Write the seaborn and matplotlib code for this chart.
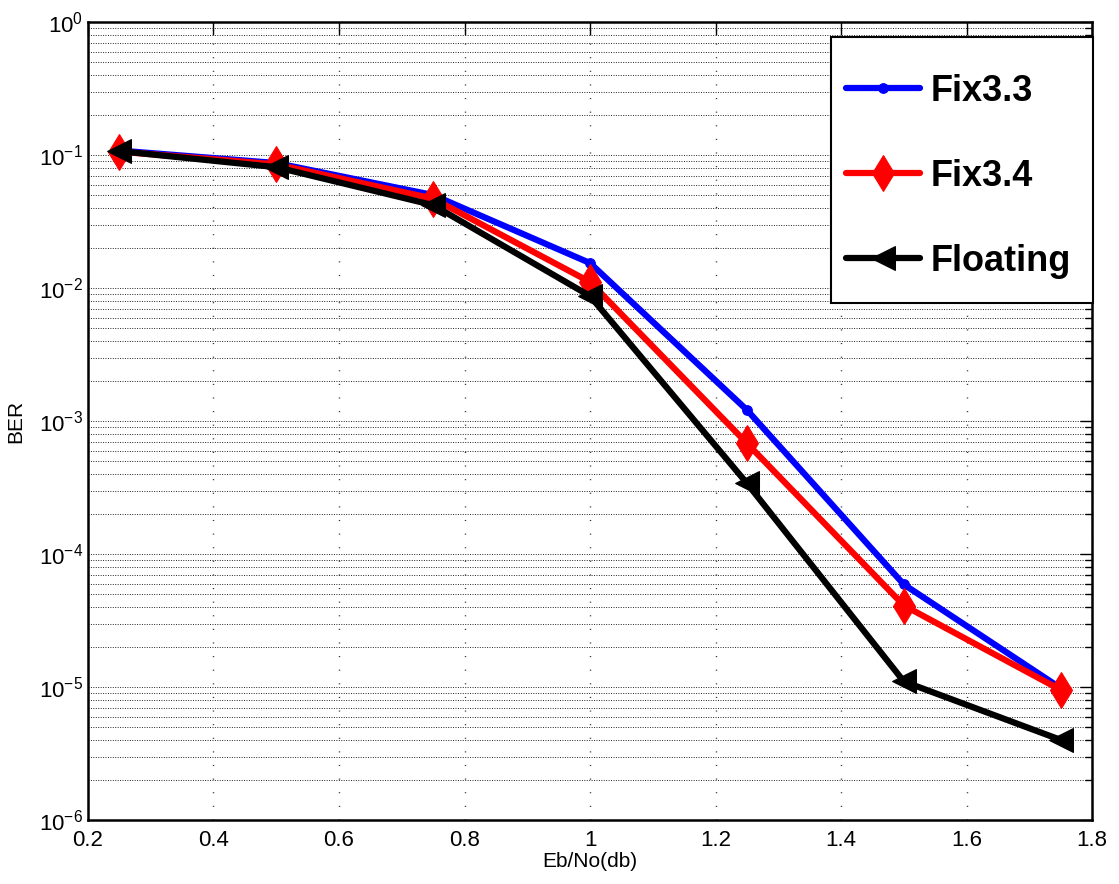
import matplotlib
matplotlib.use("Agg")
import matplotlib.pyplot as plt
import seaborn as sns
import pandas as pd
import numpy as np
from matplotlib.ticker import LogLocator, FixedLocator, NullFormatter
from matplotlib.patches import Rectangle

ebno = [0.25, 0.5, 0.75, 1.0, 1.25, 1.5, 1.75]
fix33 = [0.108, 0.087, 0.050, 0.0154, 0.00121, 5.9e-5, 9.8e-6]
fix34 = [0.106, 0.085, 0.047, 0.0111, 6.8e-4, 4.1e-5, 9.5e-6]
floating = [0.107, 0.081, 0.042, 0.0087, 3.4e-4, 1.1e-5, 4.0e-6]
series_names = ["Fix3.3", "Fix3.4", "Floating"]
xticks = [0.2, 0.4, 0.6, 0.8, 1.0, 1.2, 1.4, 1.6, 1.8]
xticklabels = ["0.2", "0.4", "0.6", "0.8", "1", "1.2", "1.4", "1.6", "1.8"]

sns.set_style("white")
plt.rcParams['font.family'] = ['Liberation Sans', 'DejaVu Sans']
plt.rcParams['mathtext.fontset'] = 'custom'
plt.rcParams['mathtext.rm'] = 'Liberation Sans'
plt.rcParams['text.color'] = 'black'
plt.rcParams['axes.labelcolor'] = 'black'
plt.rcParams['xtick.color'] = 'black'
plt.rcParams['ytick.color'] = 'black'

fig = plt.figure(figsize=(11.19, 8.84), dpi=100)
ax = fig.add_axes([0.0786, 0.0724, 0.8974, 0.9027])

df = pd.DataFrame({
    "x": ebno * 3,
    "y": fix33 + fix34 + floating,
    "s": sum([[n] * len(ebno) for n in series_names], []),
})

styles = {
    "Fix3.3": dict(color="#0000ff", marker="o", ms=7),
    "Fix3.4": dict(color="#ff0000", marker="d", ms=18),
    "Floating": dict(color="#000000", marker="<", ms=17),
}
for name in series_names:
    st = styles[name]
    sns.lineplot(data=df[df.s == name], x="x", y="y", ax=ax, color=st["color"],
                 marker=st["marker"], markersize=st["ms"], linewidth=4.5,
                 markeredgecolor=st["color"], markerfacecolor=st["color"],
                 label=name, estimator=None, zorder=3)

ax.set_yscale("log")
ax.set_xlim(0.2, 1.8)
ax.set_ylim(1e-6, 1)
ax.xaxis.set_major_locator(FixedLocator(xticks))
ax.set_xticklabels(xticklabels)
ax.yaxis.set_major_locator(LogLocator(base=10, numticks=10))
ax.yaxis.set_minor_locator(LogLocator(base=10, subs=np.arange(2, 10), numticks=100))
ax.yaxis.set_minor_formatter(NullFormatter())

ax.grid(True, which="major", axis="x", color="#333333", linestyle=(0, (0.8, 9)), linewidth=1.0)
ax.grid(True, which="both", axis="y", color="#222222", linestyle=(0, (1, 1.5)), linewidth=0.7)
ax.tick_params(axis="both", which="both", direction="in", top=True, right=True,
               labelsize=16, length=9, width=1)
ax.tick_params(axis="y", which="minor", length=5)
ax.tick_params(axis="x", pad=7)
for sp in ax.spines.values():
    sp.set_linewidth(1.8)
    sp.set_color("black")

ax.set_xlabel("Eb/No(db)", fontsize=15, labelpad=1)
ax.set_ylabel("BER", fontsize=15, labelpad=10)

# legend box (frame drawn separately so that its padding matches the reference)
box = Rectangle((0.740, 0.648), 0.261, 0.333, transform=ax.transAxes,
                facecolor="white", edgecolor="black", linewidth=1.5,
                zorder=4, clip_on=False)
ax.add_patch(box)
leg = ax.legend(loc="upper left", prop={"weight": "bold", "size": 26},
                frameon=False, labelspacing=1.38, handlelength=2.05,
                handletextpad=0.3, borderpad=0.0, borderaxespad=0.0,
                bbox_to_anchor=(0.755, 0.935))
leg.set_zorder(5)

fig.savefig("out.png", dpi=100)
